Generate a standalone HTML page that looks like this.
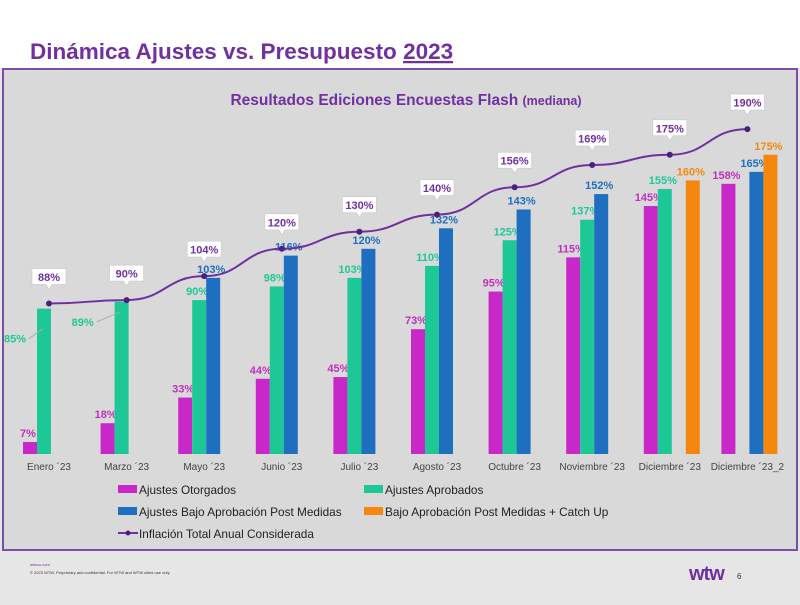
<!DOCTYPE html>
<html><head><meta charset="utf-8"><style>
body{margin:0;width:800px;height:600px;overflow:hidden;background:#e6e6e6;font-family:"Liberation Sans",sans-serif}
svg text{font-family:"Liberation Sans",sans-serif}
</style></head><body>
<svg id="c" width="800" height="600" xmlns="http://www.w3.org/2000/svg">
<rect x="0" y="0" width="800" height="68" fill="#ffffff"/>
<text x="30" y="59" font-size="22.5" font-weight="bold" fill="#7030a0">Dinámica Ajustes vs. Presupuesto <tspan text-decoration="underline">2023</tspan></text>
<rect x="3" y="69" width="794" height="481" fill="#d9d9d9" stroke="#7b4fa8" stroke-width="2"/>
<text x="406" y="105" text-anchor="middle" font-size="15.5" font-weight="bold" fill="#7030a0">Resultados Ediciones Encuestas Flash <tspan font-size="12.5">(mediana)</tspan></text>
<g id="plot"></g>
<g id="legend">
<rect x="118" y="485" width="19" height="8" fill="#c828c8"/>
<text x="139" y="494" font-size="11.8" fill="#222">Ajustes Otorgados</text>
<rect x="364" y="485" width="19" height="8" fill="#1ec896"/>
<text x="385" y="494" font-size="11.8" fill="#222">Ajustes Aprobados</text>
<rect x="118" y="507" width="19" height="8" fill="#1f6fc0"/>
<text x="139" y="516" font-size="11.8" fill="#222">Ajustes Bajo Aprobación Post Medidas</text>
<rect x="364" y="507" width="19" height="8" fill="#f5870f"/>
<text x="385" y="516" font-size="11.8" fill="#222">Bajo Aprobación Post Medidas + Catch Up</text>
<line x1="118" y1="533" x2="138" y2="533" stroke="#7030a0" stroke-width="2"/>
<circle cx="128" cy="533" r="2.5" fill="#4b1f7a"/>
<text x="139" y="538" font-size="11.8" fill="#222">Inflación Total Anual Considerada</text>
</g>
<text x="30" y="566" font-size="4" fill="#7030a0">wtwco.com</text>
<text x="30" y="574" font-size="4" fill="#333">© 2023 WTW. Proprietary and confidential. For WTW and WTW client use only.</text>
<text x="689" y="580" font-size="20" font-weight="bold" fill="#7030a0" letter-spacing="-1">wtw</text>
<text x="737" y="579" font-size="8" fill="#333">6</text>
</svg>
<script>
const categories=["Enero ´23","Marzo ´23","Mayo ´23","Junio ´23","Julio ´23","Agosto ´23","Octubre ´23","Noviembre ´23","Diciembre ´23","Diciembre ´23_2"];
const otorgados=[7,18,33,44,45,73,95,115,145,158];
const aprobados=[85,89,90,98,103,110,125,137,155,null];
const bajoAprobacion=[null,null,103,116,120,132,143,152,null,165];
const catchUp=[null,null,null,null,null,null,null,null,160,175];
const inflacion=[88,90,104,120,130,140,156,169,175,190];
const NS="http://www.w3.org/2000/svg";
const g=document.getElementById('plot');
const base=454, k=1.71, x0=51, step=77.6, bw=14;
const xc=i=>x0+i*step;
const y=v=>base-v*k;
function mk(t,a){const e=document.createElementNS(NS,t);for(const q in a)e.setAttribute(q,a[q]);g.appendChild(e);return e;}
const series=[[otorgados,"#c828c8","#c030c0","otorgados"],[aprobados,"#1ec896","#1ec896","aprobados"],[bajoAprobacion,"#1f6fc0","#1f6fc0","bajo-aprobacion"],[catchUp,"#f5870f","#f5870f","catch-up"]];
series.forEach((s,si)=>{
  s[0].forEach((v,i)=>{
    if(v==null)return;
    const bx=xc(i)-28+si*bw;
    const r=mk('rect',{x:bx,y:y(v),width:bw,height:v*k,fill:s[1]});
    
    
    let lx=bx+bw/2-2, ly=y(v)-5;
    if(si==1&&i<2){lx=bx-(i==0?22:32);ly=y(v)+(i==0?34:24);
      const l=mk('line',{x1:lx+14,y1:ly-4,x2:bx+6,y2:ly-14,stroke:"#aaa","stroke-width":1});
      
      }
    const t=mk('text',{x:lx,y:ly,"text-anchor":"middle","font-size":11,"font-weight":"bold",fill:s[2]});
    t.textContent=v+"%";
    
    
  });
});
const pts=inflacion.map((v,i)=>[xc(i)-2,y(v)]);
let d="M"+pts[0][0]+","+pts[0][1];
for(let i=1;i<pts.length;i++){const p=pts[i-1],c=pts[i],m=(c[0]-p[0])/2;d+=" C"+(p[0]+m)+","+p[1]+" "+(c[0]-m)+","+c[1]+" "+c[0]+","+c[1];}
const pl=mk('path',{d:d,fill:"none",stroke:"#7030a0","stroke-width":2});


inflacion.forEach((v,i)=>{
  const [px,py]=pts[i];
  const c=mk('circle',{cx:px,cy:py,r:3,fill:"#4b1f7a"});
  
  
  const bwid=34,by=py-35;
  const b=mk('path',{d:`M${px-bwid/2},${by} h${bwid} v16 h-${bwid/2-3} l-3,5 l-3,-5 h-${bwid/2-3} z`,fill:"#fff",stroke:"#ccc","stroke-width":0.7});
  
  
  const t=mk('text',{x:px,y:by+12.5,"text-anchor":"middle","font-size":11,"font-weight":"bold",fill:"#7030a0"});
  t.textContent=v+"%";
  
  
});
categories.forEach((c,i)=>{
  const t=mk('text',{x:xc(i)-2,y:470,"text-anchor":"middle","font-size":10,fill:"#444"});
  t.textContent=c;
  
  
});
</script>
</body></html>
